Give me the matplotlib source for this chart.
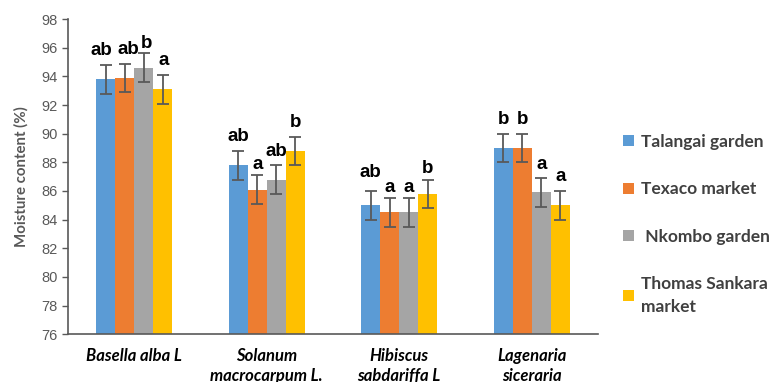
import matplotlib
matplotlib.use("Agg")
import matplotlib.pyplot as plt
import numpy as np

categories = ["Basella alba L", "Solanum\nmacrocarpum L.", "Hibiscus\nsabdariffa L", "Lagenaria\nsiceraria"]
series_names = ["Talangai garden", "Texaco market", " Nkombo garden", "Thomas Sankara\nmarket"]
talangai = [93.8, 87.8, 85.0, 89.0]
texaco = [93.9, 86.1, 84.5, 89.0]
nkombo = [94.6, 86.8, 84.5, 85.9]
sankara = [93.1, 88.8, 85.8, 85.0]
errors = [1.0, 1.0, 1.0, 1.0]
letters = [
    ["ab", "ab", "ab", "b"],
    ["ab", "a", "a", "b"],
    ["b", "ab", "a", "a"],
    ["a", "b", "b", "a"],
]
yticks = [76, 78, 80, 82, 84, 86, 88, 90, 92, 94, 96, 98]

colors = ["#5B9BD5", "#ED7D31", "#A5A5A5", "#FFC000"]
axis_grey = "#595959"

# letter nudges (points); the first group is crowded, so its letters spread out
letter_dx = [[-3.0, 0, 0, 0], [2.5, 0, 0, 0], [2.2, 0, 0, 0], [0.8, 0, 0, 0]]
letter_dy = [[4.0, 4.0, 7.5, 4.0], [4.0, 1.5, 1.5, 4.0],
             [1.0, 4.0, 1.5, 4.0], [4.0, 4.0, 1.5, 4.0]]

fig = plt.figure(figsize=(7.74, 3.82), dpi=100)
ax = fig.add_axes([0.0879, 0.125, 0.6847, 0.825])

series = [talangai, texaco, nkombo, sankara]
x = np.arange(len(categories))
width = 0.1435
for i, (vals, col, name) in enumerate(zip(series, colors, series_names)):
    pos = x + (i - 1.5) * width
    ax.bar(pos, vals, width, color=col, label=name, zorder=2)
    ax.errorbar(pos, vals, yerr=errors, fmt="none", ecolor=axis_grey,
                elinewidth=1.3, capsize=4.5, capthick=1.3, zorder=3)
    for j, (p, v) in enumerate(zip(pos, vals)):
        ax.annotate(letters[i][j], (p, v + errors[j]),
                    xytext=(letter_dx[i][j], letter_dy[i][j]),
                    textcoords="offset points", ha="center", va="bottom",
                    fontsize=13.5, fontweight="bold", family="Liberation Sans",
                    color="black")

ax.set_ylim(76, 98)
ax.set_xlim(-0.5, 3.5)
ax.set_yticks(yticks)
ax.set_yticklabels([str(t) for t in yticks], fontsize=10.5,
                   family="Liberation Sans", color=axis_grey)
ax.set_xticks(x)
ax.set_xticklabels(categories, fontsize=12, family="Lato",
                   fontstyle="italic", fontweight="bold", color="black",
                   linespacing=1.3)
ax.tick_params(axis="x", length=0, pad=10)
ax.tick_params(axis="y", length=4, width=1, color=axis_grey, direction="out")
for s in ["top", "right"]:
    ax.spines[s].set_visible(False)
for s in ["left", "bottom"]:
    ax.spines[s].set_color(axis_grey)
    ax.spines[s].set_linewidth(1.2)

ax.set_ylabel("Moisture content (%)", fontsize=10.8, family="Lato",
              fontweight="bold", color=axis_grey, labelpad=9)

fig.legend(loc="upper left", bbox_to_anchor=(0.785, 0.69), frameon=False,
           prop={"family": "Lato", "weight": "bold", "size": 12.5},
           labelcolor="#404040", handlelength=0.6, handleheight=0.6,
           handletextpad=0.4, labelspacing=1.8)
for t in fig.legends[0].get_texts():
    t.set_linespacing(1.55)

fig.savefig("out.png", dpi=100)
